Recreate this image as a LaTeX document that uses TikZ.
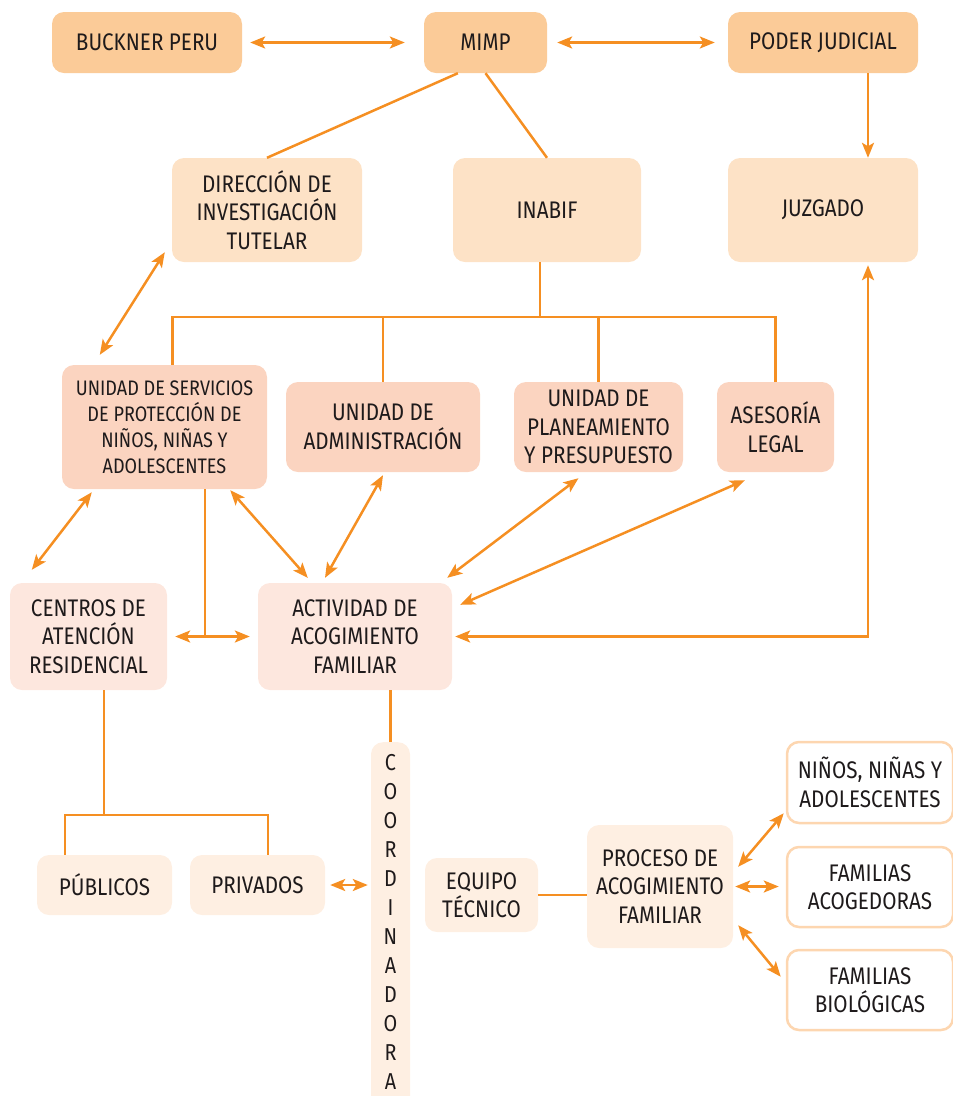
\documentclass[tikz,border=0pt]{standalone}
\usepackage{fontspec}
\setmainfont[FakeStretch=0.86]{Fira Sans}
\usetikzlibrary{arrows.meta,calc}
\definecolor{naranja}{RGB}{245,143,34}
\definecolor{nivela}{RGB}{251,203,152}
\definecolor{nivelb}{RGB}{253,226,198}
\definecolor{nivelc}{RGB}{251,212,192}
\definecolor{niveld}{RGB}{253,231,222}
\definecolor{nivele}{RGB}{254,239,226}
\definecolor{bordef}{RGB}{253,214,176}
\definecolor{texto}{RGB}{30,26,27}

\begin{document}
\begin{tikzpicture}[x=1pt,y=-1pt]
\tikzstyle{caja}=[rectangle, rounded corners=12pt, inner sep=0pt, align=center, text=texto, font=\fontsize{24}{28.5}\selectfont]
\tikzstyle{linea}=[draw=naranja, line width=2.5pt]
\tikzstyle{flecha}=[linea, {Stealth[length=15pt,width=12pt,inset=3.5pt]}-{Stealth[length=15pt,width=12pt,inset=3.5pt]}]
\tikzstyle{hacia}=[linea, -{Stealth[length=15pt,width=12pt,inset=3.5pt]}]
\useasboundingbox (0,0) rectangle (953,1096);

\node[caja, fill=nivela, minimum width=190pt, minimum height=61pt] (buckner) at (147,42.5) {BUCKNER PERU};
\node[caja, fill=nivela, minimum width=123pt, minimum height=61pt] (mimp) at (485.5,42.5) {MIMP};
\node[caja, fill=nivela, minimum width=190pt, minimum height=61pt] (poder) at (823,42.5) {PODER JUDICIAL};
\node[caja, fill=nivelb, minimum width=190pt, minimum height=104pt] (dit) at (267,210) {DIRECCIÓN DE\\INVESTIGACIÓN\\TUTELAR};
\node[caja, fill=nivelb, minimum width=188pt, minimum height=104pt] (inabif) at (547,210) {INABIF};
\node[caja, fill=nivelb, minimum width=190pt, minimum height=104pt] (juzgado) at (823,210) {JUZGADO};
\node[caja, fill=nivelc, minimum width=205pt, minimum height=124pt, font=\fontsize{21}{26}\selectfont] (uspnna) at (164.5,427) {UNIDAD DE SERVICIOS\\DE PROTECCIÓN DE\\NIÑOS, NIÑAS Y\\ADOLESCENTES};
\node[caja, fill=nivelc, minimum width=194pt, minimum height=90pt] (admin) at (383,427) {UNIDAD DE\\ADMINISTRACIÓN};
\node[caja, fill=nivelc, minimum width=169pt, minimum height=90pt] (plan) at (598.5,427) {UNIDAD DE\\PLANEAMIENTO\\Y PRESUPUESTO};
\node[caja, fill=nivelc, minimum width=117pt, minimum height=90pt] (asesoria) at (775.5,427) {ASESORÍA\\LEGAL};
\node[caja, fill=niveld, minimum width=157pt, minimum height=107pt] (centros) at (88.5,636.5) {CENTROS DE\\ATENCIÓN\\RESIDENCIAL};
\node[caja, fill=niveld, minimum width=194pt, minimum height=107pt] (actividad) at (355,636.5) {ACTIVIDAD DE\\ACOGIMIENTO\\FAMILIAR};
\node[caja, fill=nivele, minimum width=135pt, minimum height=60pt] (publicos) at (104.5,885) {PÚBLICOS};
\node[caja, fill=nivele, minimum width=135pt, minimum height=60pt] (privados) at (257.5,885) {PRIVADOS};
\node[caja, fill=nivele, minimum width=39pt, minimum height=380pt, anchor=north] (coord) at (390.5,742) {};
\node[caja, anchor=north, font=\fontsize{23}{29}\selectfont] (letras) at ($(coord.north)+(0,12)$) {C\\O\\O\\R\\D\\I\\N\\A\\D\\O\\R\\A};
\node[caja, fill=nivele, minimum width=113pt, minimum height=74pt] (equipo) at (481.5,895) {EQUIPO\\TÉCNICO};
\node[caja, fill=nivele, minimum width=146pt, minimum height=123pt] (proceso) at (660,886.5) {PROCESO DE\\ACOGIMIENTO\\FAMILIAR};
\node[caja, fill=white, draw=bordef, line width=2.5pt, minimum width=166pt, minimum height=81pt] (ninos) at (870,782.5) {NIÑOS, NIÑAS Y\\ADOLESCENTES};
\node[caja, fill=white, draw=bordef, line width=2.5pt, minimum width=166pt, minimum height=80pt] (acogedoras) at (870,887) {FAMILIAS\\ACOGEDORAS};
\node[caja, fill=white, draw=bordef, line width=2.5pt, minimum width=166pt, minimum height=80pt] (biologicas) at (870,990) {FAMILIAS\\BIOLÓGICAS};

\draw[flecha, shorten <=8pt, shorten >=19pt] (buckner) -- (mimp);
\draw[flecha, shorten <=10pt, shorten >=13pt] (mimp) -- (poder);
\draw[linea] (mimp.228) -- (dit.north);
\draw[linea] (mimp.south) -- (inabif.north);
\draw[hacia] ([xshift=45pt]poder.south) -- ([xshift=45pt]juzgado.north);
\draw[flecha] ($(dit.south west)+(-7,-10)$) -- ($(uspnna.north west)+(38,-10)$);

\coordinate (bus) at ($(inabif.south)+(-7,55)$);
\draw[linea] ([xshift=-7pt]inabif.south) -- (bus);
\draw[linea] ([xshift=8pt]uspnna.north) |- (bus) -| (asesoria.north);
\draw[linea] (admin.north) -- (admin.north |- bus);
\draw[linea] (plan.north) -- (plan.north |- bus);

\draw[flecha] ($(uspnna.south west)+(30,3)$) -- ($(centros.north west)+(22,-13)$);
\draw[flecha] ($(uspnna.south east)+(-37,1)$) -- ($(actividad.north west)+(50,-5)$);
\draw[flecha] ($(admin.south)+(0,3)$) -- ($(actividad.north)+(-30,-5)$);
\draw[flecha] ($(plan.south)+(-20,6)$) -- ($(actividad.north east)+(-5,-5)$);
\draw[flecha] ($(asesoria.south west)+(28,8)$) -- ($(actividad.north east)+(8,22)$);
\draw[flecha, shorten <=3pt, shorten >=3pt] ([xshift=45pt]juzgado.south) |- (actividad.east);

\coordinate (cruce) at ([xshift=40.5pt]uspnna.south |- centros.east);
\draw[linea] ([xshift=40.5pt]uspnna.south) -- (cruce);
\draw[flecha, shorten <=8pt, shorten >=8pt] (centros.east) -- (actividad.west);

\coordinate (rama) at ($(centros.south)+(15.5,125)$);
\draw[linea] ([xshift=15.5pt]centros.south) -- (rama);
\draw[linea] ([xshift=-39.5pt]publicos.north) |- (rama) -| ([xshift=10.5pt]privados.north);

\draw[linea] (coord.north) -- (coord.north |- actividad.south);
\draw[flecha, shorten <=5pt, shorten >=3pt] (privados.east) -- (coord.west |- privados.east);
\draw[linea] (equipo.east) -- (proceso.west |- equipo.east);
\draw[flecha] ($(proceso.north east)+(5,42)$) -- ($(ninos.south west)+(-2,-11)$);
\draw[flecha, shorten <=2pt, shorten >=7pt] (proceso.east) -- (acogedoras.west |- proceso.east);
\draw[flecha] ($(proceso.south east)+(5,-23)$) -- ($(biologicas.north west)+(-5,28)$);
\end{tikzpicture}
\end{document}
